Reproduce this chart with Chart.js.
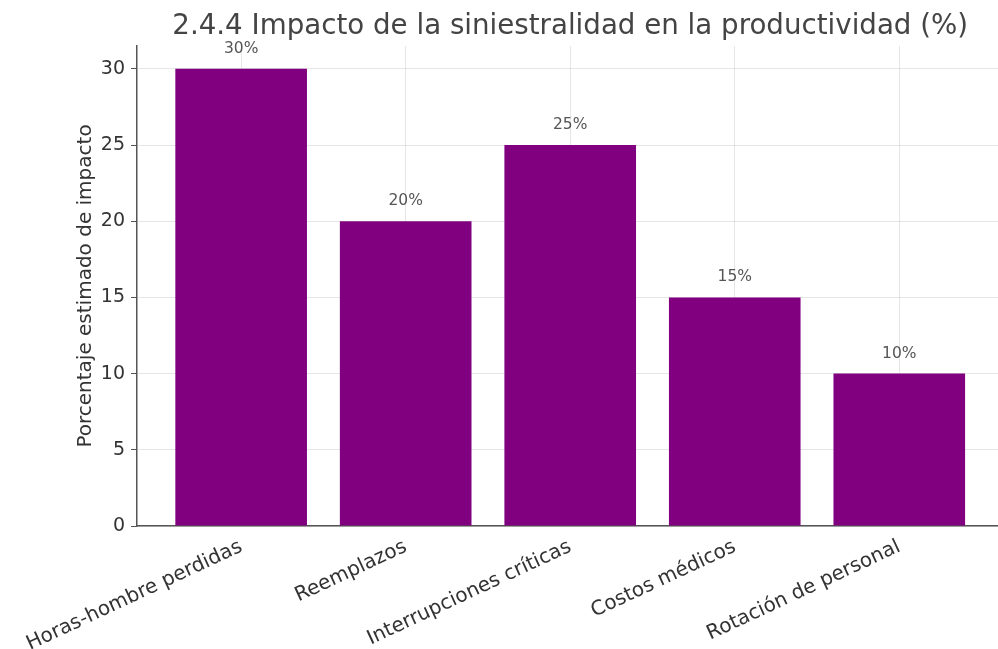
<!DOCTYPE html>
<html>
<head>
<meta charset="utf-8">
<script src="https://cdn.jsdelivr.net/npm/chart.js@4.4.1/dist/chart.umd.min.js"></script>
<style>
  html, body { margin: 0; padding: 0; background: #fff; }
  #wrap { width: 998px; height: 649px; }
</style>
</head>
<body>
<div id="wrap"><canvas id="grafica"></canvas></div>
<script>
// Datos de la grafica
const categorias = ['Horas-hombre perdidas', 'Reemplazos', 'Interrupciones críticas', 'Costos médicos', 'Rotación de personal']
const valores = [30, 20, 25, 15, 10]
const ticksY = [0, 5, 10, 15, 20, 25, 30]
const titulo = '2.4.4 Impacto de la siniestralidad en la productividad (%)'
const tituloEjeY = 'Porcentaje estimado de impacto'

const fuente = "'DejaVu Sans', sans-serif"
const morado = '#800080'
const gris = 'rgba(200,200,200,0.45)'

// titulo y etiquetas de valor dibujados a mano
const extras = {
  id: 'extras',
  afterDraw(chart) {
    const ctx = chart.ctx
    const x = chart.scales.x
    ctx.save()
    ctx.fillStyle = '#444'
    ctx.font = '27.7px ' + fuente
    ctx.textAlign = 'center'
    ctx.textBaseline = 'middle'
    ctx.fillText(titulo, x.getPixelForValue(2), 27)

    ctx.font = '15.5px ' + fuente
    ctx.fillStyle = '#555'
    const meta = chart.getDatasetMeta(0)
    meta.data.forEach((bar, i) => {
      ctx.fillText(valores[i] + '%', bar.x, bar.y - 20)
    })
    ctx.restore()
  }
}

const ctx = document.getElementById('grafica').getContext('2d')
const grafica = new Chart(ctx, {
  type: 'bar',
  data: {
    datasets: [{
      data: valores.map((v, i) => ({ x: i, y: v })),
      backgroundColor: morado,
      borderWidth: 0,
      barPercentage: 0.8,
      categoryPercentage: 1
    }]
  },
  options: {
    responsive: true,
    maintainAspectRatio: false,
    animation: false,
    layout: { padding: { top: 46, left: 0, right: 0, bottom: 0 } },
    plugins: {
      legend: { display: false },
      tooltip: { enabled: false }
    },
    scales: {
      x: {
        type: 'linear',
        min: -0.633,
        max: 4.6,
        offset: false,
        z: 1,
        afterBuildTicks: (axis) => { axis.ticks = categorias.map((c, i) => ({ value: i })) },
        afterFit: (axis) => { axis.height = 123 },
        ticks: {
          autoSkip: false,
          minRotation: 25,
          maxRotation: 25,
          color: '#333',
          padding: 9,
          font: { family: fuente, size: 20 },
          callback: (v) => categorias[v] || ''
        },
        grid: { color: gris, lineWidth: 1, offset: false, drawTicks: false },
        border: { display: true, color: '#555', width: 1.5 }
      },
      y: {
        min: 0,
        max: 31.5,
        z: 1,
        afterBuildTicks: (axis) => { axis.ticks = ticksY.map(v => ({ value: v })) },
        afterFit: (axis) => { axis.width = 137 },
        ticks: {
          color: '#333',
          padding: 6,
          font: { family: fuente, size: 19 }
        },
        grid: { color: gris, lineWidth: 1, tickLength: 6, tickColor: '#555' },
        border: { display: true, color: '#555', width: 1.5 },
        title: {
          display: true,
          text: tituloEjeY,
          color: '#333',
          font: { family: fuente, size: 20 },
          padding: { top: 74, bottom: 0 }
        }
      }
    }
  },
  plugins: [extras]
})
</script>
</body>
</html>
